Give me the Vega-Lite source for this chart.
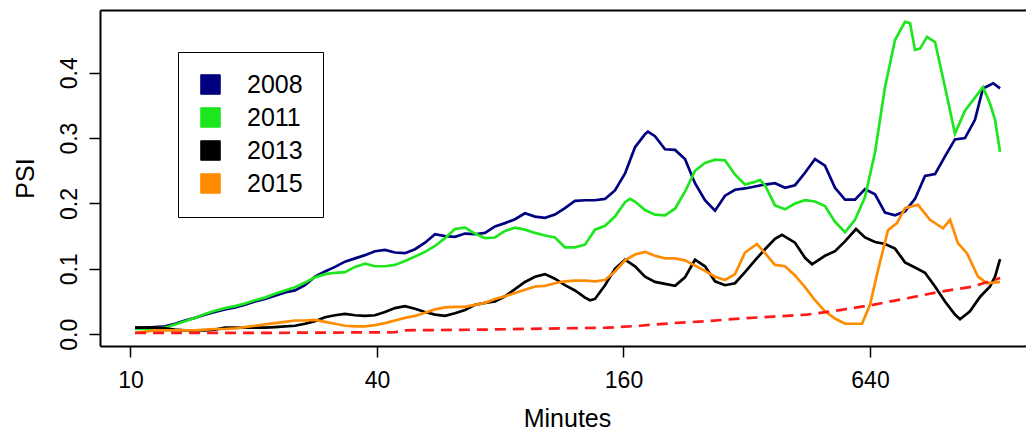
{
"$schema": "https://vega.github.io/schema/vega-lite/v6.json",
"width": 926, "height": 336,
"autosize": "none",
"padding": {"left": 100, "top": 10, "right": 0, "bottom": 90},
"background": "white",
"config": {
 "view": {"stroke": null},
 "font": "Liberation Sans",
 "axis": {"grid": false, "domainColor": "black", "domainWidth": 2, "tickColor": "black", "tickWidth": 1.5, "tickSize": 11, "labelColor": "black", "labelFontSize": 23, "titleColor": "black", "titleFontSize": 25, "titleFontWeight": "normal", "labelFont": "Liberation Sans", "titleFont": "Liberation Sans"}
},
"data": {"values": [
{"m":10.26,"s":"2008","v":0.010},{"m":10.85,"s":"2008","v":0.010},{"m":11.48,"s":"2008","v":0.011},{"m":12.14,"s":"2008","v":0.012},{"m":12.84,"s":"2008","v":0.016},{"m":13.59,"s":"2008","v":0.021},{"m":14.37,"s":"2008","v":0.025},{"m":15.20,"s":"2008","v":0.030},{"m":16.08,"s":"2008","v":0.034},{"m":17.01,"s":"2008","v":0.038},{"m":18.00,"s":"2008","v":0.041},{"m":19.04,"s":"2008","v":0.045},{"m":20.14,"s":"2008","v":0.050},{"m":21.31,"s":"2008","v":0.054},{"m":22.54,"s":"2008","v":0.059},{"m":23.84,"s":"2008","v":0.064},{"m":25.22,"s":"2008","v":0.067},{"m":26.68,"s":"2008","v":0.075},{"m":28.22,"s":"2008","v":0.088},{"m":29.86,"s":"2008","v":0.096},{"m":31.59,"s":"2008","v":0.103},{"m":33.41,"s":"2008","v":0.111},{"m":35.35,"s":"2008","v":0.116},{"m":37.39,"s":"2008","v":0.121},{"m":39.55,"s":"2008","v":0.127},{"m":41.84,"s":"2008","v":0.129},{"m":44.26,"s":"2008","v":0.125},{"m":46.82,"s":"2008","v":0.124},{"m":49.53,"s":"2008","v":0.130},{"m":52.40,"s":"2008","v":0.140},{"m":55.43,"s":"2008","v":0.153},{"m":58.63,"s":"2008","v":0.150},{"m":62.03,"s":"2008","v":0.149},{"m":65.62,"s":"2008","v":0.154},{"m":69.41,"s":"2008","v":0.153},{"m":73.43,"s":"2008","v":0.155},{"m":77.67,"s":"2008","v":0.165},{"m":82.17,"s":"2008","v":0.170},{"m":86.92,"s":"2008","v":0.176},{"m":91.94,"s":"2008","v":0.185},{"m":97.27,"s":"2008","v":0.180},{"m":102.9,"s":"2008","v":0.178},{"m":108.8,"s":"2008","v":0.183},{"m":115.1,"s":"2008","v":0.193},{"m":121.8,"s":"2008","v":0.204},{"m":128.9,"s":"2008","v":0.205},{"m":136.3,"s":"2008","v":0.205},{"m":144.2,"s":"2008","v":0.207},{"m":152.5,"s":"2008","v":0.220},{"m":161.4,"s":"2008","v":0.246},{"m":170.7,"s":"2008","v":0.286},{"m":180.6,"s":"2008","v":0.306},{"m":183.6,"s":"2008","v":0.310},{"m":191.0,"s":"2008","v":0.303},{"m":202.1,"s":"2008","v":0.283},{"m":213.8,"s":"2008","v":0.282},{"m":226.1,"s":"2008","v":0.268},{"m":239.2,"s":"2008","v":0.231},{"m":253.0,"s":"2008","v":0.205},{"m":267.7,"s":"2008","v":0.189},{"m":283.2,"s":"2008","v":0.212},{"m":299.6,"s":"2008","v":0.221},{"m":316.9,"s":"2008","v":0.223},{"m":335.2,"s":"2008","v":0.226},{"m":354.6,"s":"2008","v":0.229},{"m":375.1,"s":"2008","v":0.231},{"m":396.8,"s":"2008","v":0.224},{"m":419.8,"s":"2008","v":0.228},{"m":444.1,"s":"2008","v":0.247},{"m":469.8,"s":"2008","v":0.268},{"m":496.9,"s":"2008","v":0.258},{"m":525.7,"s":"2008","v":0.224},{"m":556.1,"s":"2008","v":0.206},{"m":588.3,"s":"2008","v":0.206},{"m":622.3,"s":"2008","v":0.222},{"m":658.3,"s":"2008","v":0.214},{"m":696.4,"s":"2008","v":0.186},{"m":736.7,"s":"2008","v":0.182},{"m":779.3,"s":"2008","v":0.188},{"m":824.4,"s":"2008","v":0.207},{"m":872.1,"s":"2008","v":0.242},{"m":922.6,"s":"2008","v":0.245},{"m":975.9,"s":"2008","v":0.272},{"m":1032,"s":"2008","v":0.298},{"m":1092,"s":"2008","v":0.300},{"m":1155,"s":"2008","v":0.328},{"m":1208,"s":"2008","v":0.376},{"m":1280,"s":"2008","v":0.384},{"m":1330,"s":"2008","v":0.376},
{"m":10.26,"s":"2011","v":0.008},{"m":10.85,"s":"2011","v":0.008},{"m":11.48,"s":"2011","v":0.009},{"m":12.14,"s":"2011","v":0.010},{"m":12.84,"s":"2011","v":0.015},{"m":13.59,"s":"2011","v":0.020},{"m":14.37,"s":"2011","v":0.025},{"m":15.20,"s":"2011","v":0.031},{"m":16.08,"s":"2011","v":0.036},{"m":17.01,"s":"2011","v":0.040},{"m":18.00,"s":"2011","v":0.043},{"m":19.04,"s":"2011","v":0.047},{"m":20.14,"s":"2011","v":0.052},{"m":21.31,"s":"2011","v":0.056},{"m":22.54,"s":"2011","v":0.062},{"m":23.84,"s":"2011","v":0.067},{"m":25.22,"s":"2011","v":0.072},{"m":26.68,"s":"2011","v":0.079},{"m":28.22,"s":"2011","v":0.087},{"m":29.86,"s":"2011","v":0.092},{"m":31.59,"s":"2011","v":0.094},{"m":33.41,"s":"2011","v":0.095},{"m":35.35,"s":"2011","v":0.103},{"m":37.39,"s":"2011","v":0.108},{"m":39.55,"s":"2011","v":0.104},{"m":41.84,"s":"2011","v":0.104},{"m":44.26,"s":"2011","v":0.106},{"m":46.82,"s":"2011","v":0.112},{"m":49.53,"s":"2011","v":0.119},{"m":52.40,"s":"2011","v":0.126},{"m":55.43,"s":"2011","v":0.135},{"m":58.63,"s":"2011","v":0.147},{"m":62.03,"s":"2011","v":0.161},{"m":65.62,"s":"2011","v":0.163},{"m":69.41,"s":"2011","v":0.154},{"m":73.43,"s":"2011","v":0.147},{"m":77.67,"s":"2011","v":0.148},{"m":82.17,"s":"2011","v":0.158},{"m":86.92,"s":"2011","v":0.163},{"m":91.94,"s":"2011","v":0.160},{"m":97.27,"s":"2011","v":0.155},{"m":102.9,"s":"2011","v":0.151},{"m":108.8,"s":"2011","v":0.148},{"m":115.1,"s":"2011","v":0.133},{"m":121.8,"s":"2011","v":0.133},{"m":128.9,"s":"2011","v":0.137},{"m":136.3,"s":"2011","v":0.160},{"m":144.2,"s":"2011","v":0.166},{"m":152.5,"s":"2011","v":0.180},{"m":161.4,"s":"2011","v":0.202},{"m":166.0,"s":"2011","v":0.207},{"m":170.7,"s":"2011","v":0.203},{"m":180.6,"s":"2011","v":0.190},{"m":191.0,"s":"2011","v":0.183},{"m":202.1,"s":"2011","v":0.182},{"m":213.8,"s":"2011","v":0.192},{"m":226.1,"s":"2011","v":0.218},{"m":239.2,"s":"2011","v":0.250},{"m":253.0,"s":"2011","v":0.262},{"m":267.7,"s":"2011","v":0.267},{"m":283.2,"s":"2011","v":0.266},{"m":299.6,"s":"2011","v":0.244},{"m":316.9,"s":"2011","v":0.229},{"m":335.2,"s":"2011","v":0.233},{"m":344.8,"s":"2011","v":0.236},{"m":354.6,"s":"2011","v":0.228},{"m":375.1,"s":"2011","v":0.197},{"m":396.8,"s":"2011","v":0.191},{"m":419.8,"s":"2011","v":0.200},{"m":444.1,"s":"2011","v":0.205},{"m":469.8,"s":"2011","v":0.203},{"m":496.9,"s":"2011","v":0.196},{"m":525.7,"s":"2011","v":0.172},{"m":556.1,"s":"2011","v":0.156},{"m":588.3,"s":"2011","v":0.175},{"m":622.3,"s":"2011","v":0.210},{"m":658.3,"s":"2011","v":0.278},{"m":696.4,"s":"2011","v":0.378},{"m":736.7,"s":"2011","v":0.450},{"m":779.3,"s":"2011","v":0.478},{"m":801.6,"s":"2011","v":0.476},{"m":824.4,"s":"2011","v":0.435},{"m":847.9,"s":"2011","v":0.437},{"m":881.9,"s":"2011","v":0.455},{"m":922.6,"s":"2011","v":0.447},{"m":975.9,"s":"2011","v":0.378},{"m":1032,"s":"2011","v":0.307},{"m":1092,"s":"2011","v":0.342},{"m":1155,"s":"2011","v":0.362},{"m":1208,"s":"2011","v":0.378},{"m":1257,"s":"2011","v":0.353},{"m":1293,"s":"2011","v":0.328},{"m":1330,"s":"2011","v":0.279},
{"m":10.26,"s":"2013","v":0.010},{"m":10.85,"s":"2013","v":0.010},{"m":11.48,"s":"2013","v":0.010},{"m":12.14,"s":"2013","v":0.009},{"m":12.84,"s":"2013","v":0.007},{"m":13.59,"s":"2013","v":0.006},{"m":14.37,"s":"2013","v":0.006},{"m":15.20,"s":"2013","v":0.006},{"m":16.08,"s":"2013","v":0.007},{"m":17.01,"s":"2013","v":0.010},{"m":18.00,"s":"2013","v":0.010},{"m":19.04,"s":"2013","v":0.010},{"m":20.14,"s":"2013","v":0.010},{"m":21.31,"s":"2013","v":0.010},{"m":22.54,"s":"2013","v":0.011},{"m":23.84,"s":"2013","v":0.012},{"m":25.22,"s":"2013","v":0.013},{"m":26.68,"s":"2013","v":0.016},{"m":28.22,"s":"2013","v":0.020},{"m":29.86,"s":"2013","v":0.026},{"m":31.59,"s":"2013","v":0.029},{"m":33.41,"s":"2013","v":0.031},{"m":35.35,"s":"2013","v":0.029},{"m":37.39,"s":"2013","v":0.028},{"m":39.55,"s":"2013","v":0.029},{"m":41.84,"s":"2013","v":0.034},{"m":44.26,"s":"2013","v":0.040},{"m":46.82,"s":"2013","v":0.043},{"m":49.53,"s":"2013","v":0.039},{"m":52.40,"s":"2013","v":0.034},{"m":55.43,"s":"2013","v":0.030},{"m":58.63,"s":"2013","v":0.028},{"m":62.03,"s":"2013","v":0.032},{"m":65.62,"s":"2013","v":0.037},{"m":69.41,"s":"2013","v":0.045},{"m":73.43,"s":"2013","v":0.048},{"m":77.67,"s":"2013","v":0.050},{"m":82.17,"s":"2013","v":0.058},{"m":86.92,"s":"2013","v":0.069},{"m":91.94,"s":"2013","v":0.080},{"m":97.27,"s":"2013","v":0.088},{"m":102.9,"s":"2013","v":0.092},{"m":108.8,"s":"2013","v":0.085},{"m":115.1,"s":"2013","v":0.075},{"m":121.8,"s":"2013","v":0.067},{"m":128.9,"s":"2013","v":0.056},{"m":132.5,"s":"2013","v":0.052},{"m":136.3,"s":"2013","v":0.054},{"m":144.2,"s":"2013","v":0.075},{"m":152.5,"s":"2013","v":0.100},{"m":161.4,"s":"2013","v":0.114},{"m":170.7,"s":"2013","v":0.104},{"m":180.6,"s":"2013","v":0.088},{"m":191.0,"s":"2013","v":0.080},{"m":202.1,"s":"2013","v":0.077},{"m":213.8,"s":"2013","v":0.074},{"m":226.1,"s":"2013","v":0.087},{"m":239.2,"s":"2013","v":0.114},{"m":253.0,"s":"2013","v":0.104},{"m":267.7,"s":"2013","v":0.081},{"m":283.2,"s":"2013","v":0.075},{"m":299.6,"s":"2013","v":0.078},{"m":316.9,"s":"2013","v":0.095},{"m":335.2,"s":"2013","v":0.113},{"m":354.6,"s":"2013","v":0.130},{"m":375.1,"s":"2013","v":0.146},{"m":390.2,"s":"2013","v":0.152},{"m":419.8,"s":"2013","v":0.140},{"m":444.1,"s":"2013","v":0.117},{"m":462.0,"s":"2013","v":0.107},{"m":496.9,"s":"2013","v":0.120},{"m":525.7,"s":"2013","v":0.127},{"m":556.1,"s":"2013","v":0.142},{"m":591.6,"s":"2013","v":0.161},{"m":622.3,"s":"2013","v":0.148},{"m":658.3,"s":"2013","v":0.141},{"m":696.4,"s":"2013","v":0.138},{"m":736.7,"s":"2013","v":0.131},{"m":779.3,"s":"2013","v":0.110},{"m":824.4,"s":"2013","v":0.102},{"m":872.1,"s":"2013","v":0.094},{"m":922.6,"s":"2013","v":0.073},{"m":975.9,"s":"2013","v":0.050},{"m":1032,"s":"2013","v":0.030},{"m":1062,"s":"2013","v":0.023},{"m":1123,"s":"2013","v":0.035},{"m":1188,"s":"2013","v":0.057},{"m":1257,"s":"2013","v":0.073},{"m":1293,"s":"2013","v":0.088},{"m":1330,"s":"2013","v":0.115},
{"m":10.26,"s":"2015","v":0.002},{"m":10.85,"s":"2015","v":0.004},{"m":11.48,"s":"2015","v":0.006},{"m":12.14,"s":"2015","v":0.006},{"m":12.84,"s":"2015","v":0.006},{"m":13.59,"s":"2015","v":0.006},{"m":14.37,"s":"2015","v":0.006},{"m":15.20,"s":"2015","v":0.007},{"m":16.08,"s":"2015","v":0.008},{"m":17.01,"s":"2015","v":0.008},{"m":18.00,"s":"2015","v":0.009},{"m":19.04,"s":"2015","v":0.011},{"m":20.14,"s":"2015","v":0.013},{"m":21.31,"s":"2015","v":0.015},{"m":22.54,"s":"2015","v":0.017},{"m":23.84,"s":"2015","v":0.019},{"m":25.22,"s":"2015","v":0.021},{"m":26.68,"s":"2015","v":0.021},{"m":28.22,"s":"2015","v":0.022},{"m":29.86,"s":"2015","v":0.019},{"m":31.59,"s":"2015","v":0.016},{"m":33.41,"s":"2015","v":0.013},{"m":35.35,"s":"2015","v":0.012},{"m":37.39,"s":"2015","v":0.012},{"m":39.55,"s":"2015","v":0.014},{"m":41.84,"s":"2015","v":0.017},{"m":44.26,"s":"2015","v":0.021},{"m":46.82,"s":"2015","v":0.025},{"m":49.53,"s":"2015","v":0.028},{"m":52.40,"s":"2015","v":0.033},{"m":55.43,"s":"2015","v":0.038},{"m":58.63,"s":"2015","v":0.041},{"m":62.03,"s":"2015","v":0.042},{"m":65.62,"s":"2015","v":0.042},{"m":69.41,"s":"2015","v":0.045},{"m":73.43,"s":"2015","v":0.048},{"m":77.67,"s":"2015","v":0.054},{"m":82.17,"s":"2015","v":0.058},{"m":86.92,"s":"2015","v":0.063},{"m":91.94,"s":"2015","v":0.068},{"m":97.27,"s":"2015","v":0.073},{"m":102.9,"s":"2015","v":0.074},{"m":108.8,"s":"2015","v":0.078},{"m":115.1,"s":"2015","v":0.081},{"m":121.8,"s":"2015","v":0.082},{"m":128.9,"s":"2015","v":0.082},{"m":136.3,"s":"2015","v":0.081},{"m":144.2,"s":"2015","v":0.083},{"m":152.5,"s":"2015","v":0.096},{"m":161.4,"s":"2015","v":0.113},{"m":170.7,"s":"2015","v":0.122},{"m":180.6,"s":"2015","v":0.126},{"m":191.0,"s":"2015","v":0.120},{"m":202.1,"s":"2015","v":0.116},{"m":213.8,"s":"2015","v":0.116},{"m":226.1,"s":"2015","v":0.113},{"m":239.2,"s":"2015","v":0.105},{"m":253.0,"s":"2015","v":0.097},{"m":267.7,"s":"2015","v":0.088},{"m":283.2,"s":"2015","v":0.083},{"m":299.6,"s":"2015","v":0.092},{"m":316.9,"s":"2015","v":0.125},{"m":339.0,"s":"2015","v":0.138},{"m":354.6,"s":"2015","v":0.124},{"m":375.1,"s":"2015","v":0.106},{"m":396.8,"s":"2015","v":0.104},{"m":419.8,"s":"2015","v":0.090},{"m":444.1,"s":"2015","v":0.072},{"m":469.8,"s":"2015","v":0.052},{"m":496.9,"s":"2015","v":0.035},{"m":525.7,"s":"2015","v":0.024},{"m":556.1,"s":"2015","v":0.016},{"m":588.3,"s":"2015","v":0.016},{"m":611.9,"s":"2015","v":0.016},{"m":640.1,"s":"2015","v":0.045},{"m":669.5,"s":"2015","v":0.098},{"m":708.2,"s":"2015","v":0.159},{"m":745.0,"s":"2015","v":0.170},{"m":779.3,"s":"2015","v":0.193},{"m":838.4,"s":"2015","v":0.198},{"m":896.9,"s":"2015","v":0.175},{"m":964.9,"s":"2015","v":0.162},{"m":1004,"s":"2015","v":0.175},{"m":1050,"s":"2015","v":0.139},{"m":1104,"s":"2015","v":0.124},{"m":1175,"s":"2015","v":0.088},{"m":1236,"s":"2015","v":0.078},{"m":1330,"s":"2015","v":0.080},
{"m":10.26,"s":"ref","v":0.002},{"m":19.58,"s":"ref","v":0.002},{"m":44.26,"s":"ref","v":0.003},{"m":46.82,"s":"ref","v":0.006},{"m":71.39,"s":"ref","v":0.007},{"m":112.0,"s":"ref","v":0.009},{"m":145.8,"s":"ref","v":0.010},{"m":175.6,"s":"ref","v":0.013},{"m":211.4,"s":"ref","v":0.017},{"m":255.9,"s":"ref","v":0.020},{"m":308.1,"s":"ref","v":0.024},{"m":370.9,"s":"ref","v":0.027},{"m":449.1,"s":"ref","v":0.030},{"m":540.7,"s":"ref","v":0.037},{"m":650.9,"s":"ref","v":0.045},{"m":788.1,"s":"ref","v":0.055},{"m":948.8,"s":"ref","v":0.065},{"m":1142,"s":"ref","v":0.073},{"m":1330,"s":"ref","v":0.086}
]},
"layer": [
 {
  "transform": [{"filter": "datum.s != 'ref'"}],
  "mark": {"type": "line", "strokeWidth": 2.7},
  "encoding": {
   "x": {"field": "m", "type": "quantitative", "scale": {"type": "log", "domain": [8.424, 1539], "nice": false},
     "axis": {"orient": "bottom", "values": [10, 40, 160, 640], "format": "d", "labelBaseline": "alphabetic", "labelPadding": 30, "labelFlush": false, "labelOverlap": false, "title": "Minutes", "titleX": 467, "titleY": 80, "titleAlign": "center", "titleBaseline": "alphabetic"}},
   "y": {"field": "v", "type": "quantitative", "scale": {"domain": [-0.018, 0.496], "nice": false, "zero": false},
     "axis": {"values": [0, 0.1, 0.2, 0.3, 0.4], "format": ".1f", "labelAngle": 270, "labelAlign": "center", "labelBaseline": "alphabetic", "labelPadding": 13, "title": "PSI", "titleAngle": 270, "titleX": -67, "titleY": 168, "titleAlign": "center", "titleBaseline": "alphabetic"}},
   "color": {"field": "s", "type": "nominal",
     "scale": {"domain": ["2008", "2011", "2013", "2015"], "range": ["#000080", "#1ee61e", "#000000", "#ff8c00"]},
     "legend": {"orient": "none", "legendX": 78, "legendY": 42, "title": null, "padding": 20, "strokeColor": "black", "fillColor": "white", "labelFontSize": 25, "labelColor": "black", "labelOffset": 24, "rowPadding": 7, "symbolType": "square", "symbolSize": 380, "symbolStrokeWidth": 1,
       "encode": {"symbols": {"update": {"fill": {"scale": "color", "field": "value"}, "stroke": {"value": "#333333"}, "strokeWidth": {"value": 1}, "opacity": {"value": 1}}}}}}
  }
 },
 {
  "transform": [{"filter": "datum.s == 'ref'"}],
  "mark": {"type": "line", "color": "#ff1a1a", "strokeWidth": 2.7, "strokeDash": [11, 7]},
  "encoding": {
   "x": {"field": "m", "type": "quantitative", "axis": {"orient": "top", "domain": true, "ticks": false, "labels": false, "title": null}},
   "y": {"field": "v", "type": "quantitative"}
  }
 }
],
"resolve": {"axis": {"x": "independent"}}
}
